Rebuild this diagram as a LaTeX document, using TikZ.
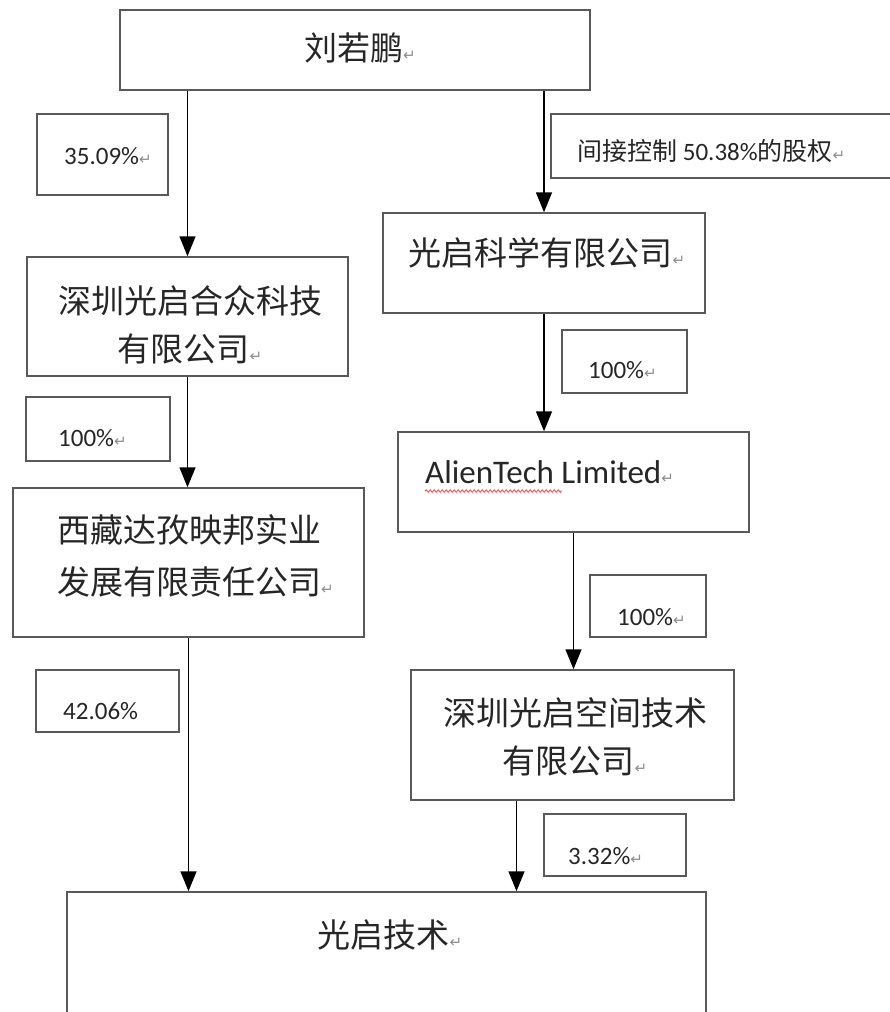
\documentclass[tikz,border=0pt]{standalone}
\usepackage{fontspec}
\setmainfont{Carlito}
\newfontfamily\cjk{Noto Sans CJK SC}
\newfontfamily\symfont{DejaVu Sans}
\usepackage{xcolor}
\usetikzlibrary{arrows.meta,decorations.pathmorphing}

\newcommand{\retmark}{{\symfont\fontsize{15}{15}\selectfont\color{black!45}↵}}

\begin{document}
\begin{tikzpicture}[
    x=1pt, y=-1pt,
    box/.style={rectangle, draw=black!65, line width=1.5pt, inner sep=0pt},
    pctbox/.style={rectangle, draw=black!65, line width=1.3pt, inner sep=0pt},
    corp/.style={font=\cjk\fontsize{33}{48}\selectfont, text=black!85, inner sep=0pt},
    pct/.style={anchor=base west, font=\fontsize{25}{25}\selectfont, text=black!85, inner sep=0pt},
    arrow/.style={-{Triangle[length=20pt,width=16pt]}, line width=1.5pt}
]
    \useasboundingbox (0,0) rectangle (890,1012);
    \clip (0,0) rectangle (890,1012);

    % Holder and companies
    \node[box, minimum width=470pt, minimum height=80pt] (liu) at (355,50) {};
    \node[box, minimum width=321pt, minimum height=119pt] (hezhong) at (187.5,316.5) {};
    \node[box, minimum width=351pt, minimum height=149pt] (xizang) at (188.5,562.5) {};
    \node[box, minimum width=322pt, minimum height=100pt] (kexue) at (544,263) {};
    \node[box, minimum width=351pt, minimum height=100pt] (alien) at (573.5,482) {};
    \node[box, minimum width=323pt, minimum height=130pt] (kongjian) at (572.5,735) {};
    \node[box, minimum width=639pt, minimum height=160pt] (jishu) at (386.5,972) {};

    % Company names
    \node[corp] (tliu) at (360,48) {刘若鹏\retmark};
    \node[corp, align=center] (thezhong) at (190,325) {深圳光启合众科技\\有限公司\retmark};
    \node[corp, align=left, anchor=west] (txizang) at (57,556) {西藏达孜映邦实业\\[4pt]发展有限责任公司\retmark};
    \node[corp] (tkexue) at (547,253) {光启科学有限公司\retmark};
    \node[anchor=base west, font=\fontsize{33}{33}\selectfont, text=black!85, inner sep=0pt] (talien) at (425,483) {AlienTech Limited\retmark};
    \node[corp, align=center] (tkongjian) at (575,737) {深圳光启空间技术\\有限公司\retmark};
    \node[corp] (tjishu) at (390,935) {光启技术\retmark};

    % Spelling mark under AlienTech
    \draw[red!75, line width=0.8pt, decorate, decoration={snake, amplitude=1.2pt, segment length=4pt}]
        ([yshift=-8pt]talien.base west) -- ++(137,0);

    % Shareholding boxes
    \node[pctbox, minimum width=131pt, minimum height=81pt] (b3509) at (102.5,154.5) {};
    \node[pctbox, minimum width=349pt, minimum height=64pt] (bctrl) at (725.5,146) {};
    \node[pctbox, minimum width=144pt, minimum height=64pt] (b100a) at (98,429) {};
    \node[pctbox, minimum width=143pt, minimum height=62pt] (b4206) at (107.5,701) {};
    \node[pctbox, minimum width=125pt, minimum height=63pt] (b100b) at (624.5,361.5) {};
    \node[pctbox, minimum width=116pt, minimum height=62pt] (b100c) at (648,606) {};
    \node[pctbox, minimum width=142pt, minimum height=62pt] (b332) at (615,845) {};

    \node[pct] (t3509) at (64,164) {35.09\%\retmark};
    \node[pct] (tctrl) at (577,160) {{\cjk 间接控制} 50.38\%{\cjk 的股权}\retmark};
    \node[pct] (t100a) at (58,446) {100\%\retmark};
    \node[pct] (t4206) at (63,719) {42.06\%};
    \node[pct] (t100b) at (588,378) {100\%\retmark};
    \node[pct] (t100c) at (617,625) {100\%\retmark};
    \node[pct] (t332) at (568,864) {3.32\%\retmark};

    % Ownership arrows
    \draw[arrow] (liu.south -| hezhong.north) -- (hezhong.north);
    \draw[arrow] (liu.south -| kexue.north) -- (kexue.north);
    \draw[arrow] (hezhong.south) -- (hezhong.south |- xizang.north);
    \draw[arrow] (kexue.south) -- (kexue.south |- alien.north);
    \draw[arrow] (alien.south) -- (alien.south |- kongjian.north);
    \draw[arrow] (xizang.south) -- (xizang.south |- jishu.north);
    \coordinate (kjout) at ([xshift=-56pt]kongjian.south);
    \draw[arrow] (kjout) -- (kjout |- jishu.north);
\end{tikzpicture}
\end{document}
